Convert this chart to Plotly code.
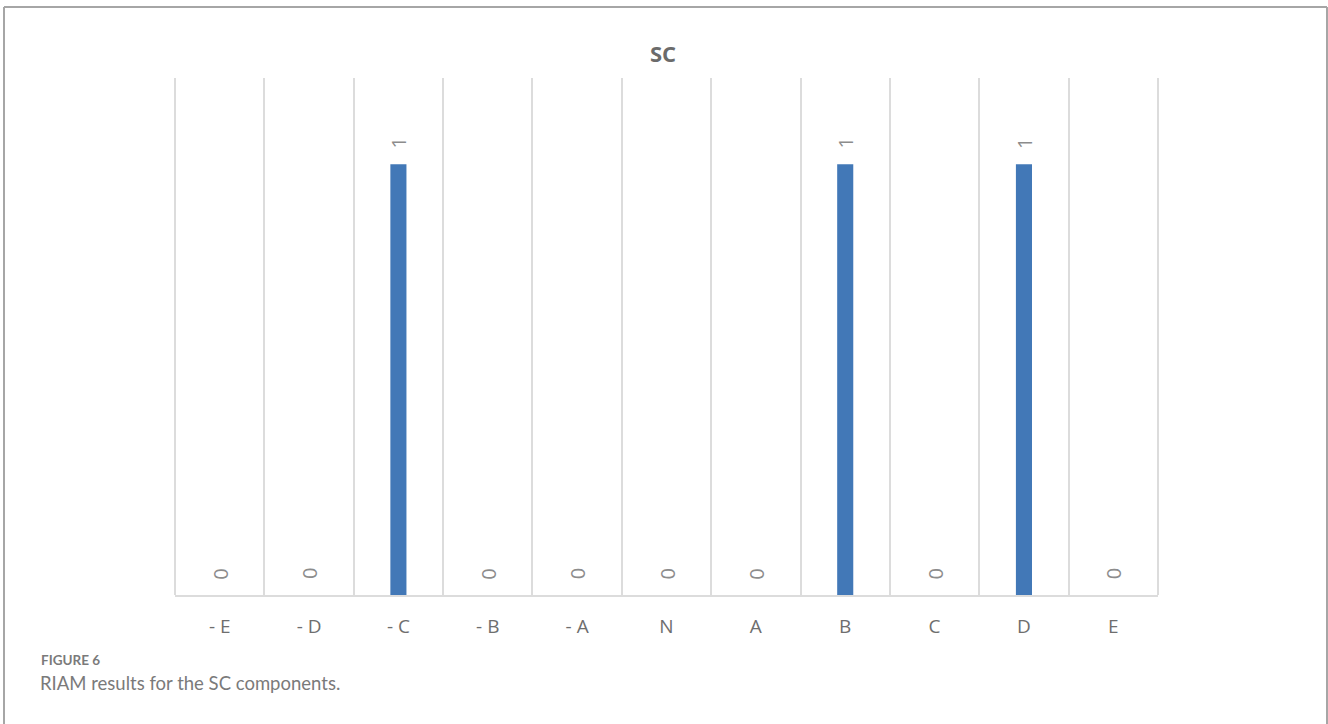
import plotly.graph_objects as go

# RIAM classes and the number of SC components in each
categories = ["- E", "- D", "- C", "- B", "- A", "N", "A", "B", "C", "D", "E"]
counts = [0, 0, 1, 0, 0, 0, 0, 1, 0, 1, 0]

title_text = "SC"
figure_label = "FIGURE 6"
caption_text = "RIAM results for the SC components."

W, H = 1328, 724
L, R, T, B = 175, 170, 78, 129
pw, ph = W - L - R, H - T - B

def px_x(x):
    return (x - L) / pw

def px_y(y):
    return (H - B - y) / ph

grid_grey = "#dcdcdc"

fig = go.Figure(
    go.Bar(
        x=categories,
        y=counts,
        marker=dict(color="#4278B7", line=dict(width=0)),
        width=0.18,
        hoverinfo="x+y",
    )
)

# value labels, rotated, placed above each bar
for c, v in zip(categories, counts):
    fig.add_annotation(
        x=c, y=v, xref="x", yref="y",
        text=str(v), showarrow=False, textangle=-90,
        yanchor="middle", yshift=21,
        font=dict(family="Open Sans", size=20, color="#8c8c8c"),
    )

# chart title
fig.add_annotation(
    x=px_x(663), y=px_y(53), xref="paper", yref="paper",
    text="<b>" + title_text + "</b>",
    showarrow=False, xanchor="center", yanchor="middle",
    font=dict(family="Open Sans", size=22, color="#6b6b6b"),
)

# caption below the chart
fig.add_annotation(
    x=px_x(39), y=px_y(660), xref="paper", yref="paper",
    text="<b>" + figure_label + "</b>", showarrow=False,
    xanchor="left", yanchor="middle",
    font=dict(family="Lato", size=13.5, color="#7a7a7a"),
)
fig.add_annotation(
    x=px_x(38), y=px_y(683), xref="paper", yref="paper",
    text=caption_text, showarrow=False,
    xanchor="left", yanchor="middle",
    font=dict(family="Lato", size=18.5, color="#7a7a7a"),
)

# outer gridlines at the plot edges
edge = dict(color=grid_grey, width=2)
for xe in (0, 1):
    fig.add_shape(type="line", xref="paper", yref="paper",
                  x0=xe, x1=xe, y0=0, y1=1, line=edge, layer="below")

# outer frame (open at the bottom)
frame = dict(color="#a6a6a6", width=2)
fig.add_shape(type="line", xref="paper", yref="paper",
              x0=px_x(4), x1=px_x(1327), y0=px_y(7), y1=px_y(7), line=frame)
fig.add_shape(type="line", xref="paper", yref="paper",
              x0=px_x(4), x1=px_x(4), y0=px_y(7), y1=px_y(724), line=frame)
fig.add_shape(type="line", xref="paper", yref="paper",
              x0=px_x(1327), x1=px_x(1327), y0=px_y(7), y1=px_y(724), line=frame)

fig.update_layout(
    width=W, height=H,
    margin=dict(l=L, r=R, t=T, b=B, pad=0),
    paper_bgcolor="white", plot_bgcolor="white",
    showlegend=False,
    bargap=0.82,
    xaxis=dict(
        type="category",
        tickson="boundaries",
        showgrid=True, gridcolor=grid_grey, gridwidth=2,
        showline=True, linecolor=grid_grey, linewidth=2,
        ticks="", ticklabelstandoff=13,
        tickfont=dict(family="Open Sans", size=19, color="#6e6e6e"),
        zeroline=False,
    ),
    yaxis=dict(
        range=[0, 1.2],
        showgrid=False, zeroline=False, showline=False,
        showticklabels=False, ticks="",
    ),
)

fig.write_html("out.html")
